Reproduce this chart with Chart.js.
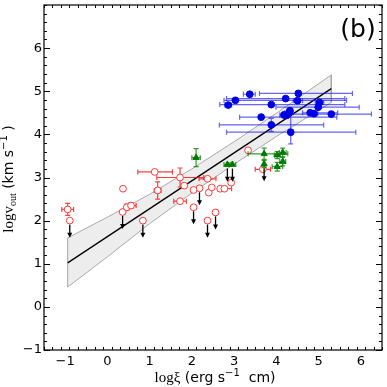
<!DOCTYPE html>
<html>
<head>
<meta charset="utf-8">
<script src="https://cdn.jsdelivr.net/npm/chart.js"></script>
<style>
  html, body { margin: 0; padding: 0; background: #fff; }
  #wrap { width: 387px; height: 387px; }
</style>
</head>
<body>
<div id="wrap"><canvas id="chart"></canvas></div>
<script>
// axes
const xRange = [-1.5, 6.5];
const yRange = [-1, 7];
const xTicks = [-1, 0, 1, 2, 3, 4, 5, 6];
const yTicks = [-1, 0, 1, 2, 3, 4, 5, 6];
const minorStep = 0.2;

// fitted relation and its confidence band
const fitX = [-0.94, 5.30];
const fitY = [1.02, 5.06];
const bandX = [-0.94, 0, 1, 2, 3, 4, 5.30];
const bandUpper = [1.60, 2.08, 2.61, 3.20, 3.83, 4.49, 5.38];
const bandLower = [0.46, 1.16, 1.93, 2.64, 3.31, 3.95, 4.74];

// red open circles  (errors are [minus, plus], 0 = none)
const redX = [-0.94, -0.89, 0.37, 0.36, 0.46, 0.56, 0.84, 1.12, 1.19, 1.72, 1.82, 1.72, 2.37,
              2.18, 2.04, 2.40, 2.47, 2.67, 2.77, 2.93, 2.04, 2.37, 2.56, 3.33, 3.68];
const redY = [2.26, 2.00, 2.74, 2.20, 2.31, 2.35, 2.00, 3.13, 2.70, 3.00, 2.81, 2.45, 2.97,
              2.75, 2.71, 2.65, 2.77, 2.74, 2.74, 2.88, 2.31, 2.00, 2.19, 3.63, 3.19];
const redXErr = [[0.14, 0.14], 0, 0, 0, [0.05, 0.05], [0.12, 0.12], 0, [0.40, 0.42], [0.08, 0.08],
                 [0.55, 0.56], [0.05, 0.05], [0.15, 0.15], [0.20, 0.20], 0, [0.05, 0.05], 0,
                 [0.05, 0.05], [0.05, 0.05], [0.05, 0.17], 0, 0, 0, 0, 0, [0.18, 0.18]];
const redYErr = [[0.14, 0.14], 0, 0, 0, [0.07, 0.07], [0.06, 0.06], 0, [0.04, 0.04], [0.20, 0.20],
                 [0.22, 0.22], 0, 0, 0, 0, 0, 0, 0, 0, 0, 0, 0, 0, 0, 0, 0];
const redLimit = [false, true, false, true, false, false, true, false, false, false, false, false, false,
                  true, false, false, false, false, false, false, true, true, true, false, false];

// blue filled circles
const blueX = [3.37, 4.52, 3.03, 4.22, 4.50, 5.02, 2.86, 3.88, 4.99, 4.32, 4.18, 4.24, 4.30,
               4.80, 4.89, 5.30, 3.64, 3.88, 4.34];
const blueY = [4.93, 4.95, 4.79, 4.83, 4.78, 4.74, 4.68, 4.69, 4.63, 4.55, 4.45, 4.44, 4.50,
               4.50, 4.48, 4.47, 4.40, 4.22, 4.05];
const blueXErr = [[0.15, 0.13], [0.92, 1.28], [0.27, 2.63], [1.40, 1.40], [0.10, 0.12], [0.10, 0.10],
                  [0.08, 0.08], [1.22, 1.74], [1.00, 0.97], 0, [0.10, 0.10], 0, [0.10, 0.10],
                  [0.18, 0.65], [0.09, 0.09], [1.15, 0.95], [0.51, 1.79], [1.23, 1.24], [1.52, 1.54]];
const blueYErr = [0, 0, 0, 0, 0, 0, 0, 0, 0, 0, 0, 0, 0, 0, 0, 0, 0, [0.15, 0.15], [0.27, 0.54]];

// green triangles
const greenX = [2.10, 2.84, 2.96, 3.71, 3.71, 4.02, 4.15, 4.02, 4.15];
const greenY = [3.46, 3.30, 3.30, 3.55, 3.31, 3.52, 3.58, 3.25, 3.37];
const greenXErr = [[0.10, 0.10], [0.08, 0.08], [0.08, 0.08], [0.38, 0.56], 0, [0.07, 0.07],
                   [0.08, 0.08], [0.12, 0.13], [0.07, 0.07]];
const greenYErr = [[0.21, 0.21], 0, 0, [0.13, 0.13], [0.08, 0.08], [0.08, 0.08], [0.10, 0.10],
                   [0.10, 0.10], [0.10, 0.10]];
const greenLimit = [false, true, true, false, true, false, false, false, false];

const limitDrop = 0.28;   // arrow length in dex

const pts = (xs, ys) => xs.map((x, i) => ({ x: x, y: ys[i] }));
const bandPts = pts(bandX, bandUpper).concat(pts(bandX, bandLower).reverse());
bandPts.push(bandPts[0]);

const fmt = v => (v < 0 ? '\u2212' + Math.abs(v) : String(v));
const noPad = s => { s.paddingTop = 0; s.paddingBottom = 0; s.paddingLeft = 0; s.paddingRight = 0; };

// error bars and upper-limit arrows, drawn just below each marker set
const errorBars = {
  id: 'errorBars',
  beforeDatasetDraw(chart, args) {
    const ds = chart.data.datasets[args.index];
    if (!ds.errX) return;
    const ctx = chart.ctx, xs = chart.scales.x, ys = chart.scales.y;
    const cap = 2.5;
    ctx.save();
    ctx.strokeStyle = ds.errColor;
    ctx.lineWidth = 1.2;
    ds.data.forEach((p, i) => {
      const px = xs.getPixelForValue(p.x), py = ys.getPixelForValue(p.y);
      const ex = ds.errX[i], ey = ds.errY[i];
      ctx.beginPath();
      if (ex) {
        const a = xs.getPixelForValue(p.x - ex[0]), b = xs.getPixelForValue(p.x + ex[1]);
        ctx.moveTo(a, py); ctx.lineTo(b, py);
        ctx.moveTo(a, py - cap); ctx.lineTo(a, py + cap);
        ctx.moveTo(b, py - cap); ctx.lineTo(b, py + cap);
      }
      if (ey) {
        const a = ys.getPixelForValue(p.y - ey[0]), b = ys.getPixelForValue(p.y + ey[1]);
        ctx.moveTo(px, a); ctx.lineTo(px, b);
        ctx.moveTo(px - cap, a); ctx.lineTo(px + cap, a);
        ctx.moveTo(px - cap, b); ctx.lineTo(px + cap, b);
      }
      ctx.stroke();
    });
    ctx.restore();
  },
  afterDatasetDraw(chart, args) {
    const ds = chart.data.datasets[args.index];
    if (!ds.limit) return;
    const ctx = chart.ctx, xs = chart.scales.x, ys = chart.scales.y;
    ctx.save();
    ctx.strokeStyle = '#000';
    ctx.fillStyle = '#000';
    ctx.lineWidth = 1.3;
    ds.data.forEach((p, i) => {
      if (!ds.limit[i]) return;
      const px = xs.getPixelForValue(p.x);
      const top = ys.getPixelForValue(p.y) + 4;
      const tip = ys.getPixelForValue(p.y - limitDrop) + 4;
      ctx.beginPath();
      ctx.moveTo(px, top); ctx.lineTo(px, tip - 3);
      ctx.stroke();
      ctx.beginPath();
      ctx.moveTo(px - 2.5, tip - 4); ctx.lineTo(px + 2.5, tip - 4); ctx.lineTo(px, tip + 1);
      ctx.closePath();
      ctx.fill();
    });
    ctx.restore();
  }
};

// frame, inward ticks on all sides, axis titles and panel tag
const decor = {
  id: 'decor',
  afterDraw(chart) {
    const ctx = chart.ctx, a = chart.chartArea, xs = chart.scales.x, ys = chart.scales.y;
    ctx.save();
    ctx.strokeStyle = '#000';
    ctx.lineWidth = 1;
    ctx.beginPath();
    const tick = (isX, v, len) => {
      if (isX) {
        const p = Math.round(xs.getPixelForValue(v)) + 0.5;
        ctx.moveTo(p, a.bottom); ctx.lineTo(p, a.bottom - len);
        ctx.moveTo(p, a.top); ctx.lineTo(p, a.top + len);
      } else {
        const p = Math.round(ys.getPixelForValue(v)) + 0.5;
        ctx.moveTo(a.left, p); ctx.lineTo(a.left + len, p);
        ctx.moveTo(a.right, p); ctx.lineTo(a.right - len, p);
      }
    };
    for (let v = xRange[0]; v <= xRange[1] + 1e-9; v += minorStep) {
      const r = Math.round(v * 10) / 10;
      tick(true, r, xTicks.includes(r) ? 6 : 3);
    }
    for (let v = yRange[0]; v <= yRange[1] + 1e-9; v += minorStep) {
      const r = Math.round(v * 10) / 10;
      tick(false, r, yTicks.includes(r) ? 6 : 3);
    }
    ctx.stroke();
    ctx.lineWidth = 1.2;
    ctx.strokeRect(a.left, a.top, a.right - a.left, a.bottom - a.top);

    const serif = '15px "Liberation Serif"';
    const sans = '14px "DejaVu Sans"';
    const small = '10px "DejaVu Sans"';
    const sub = '10px "Liberation Serif"';
    const drawParts = (parts, cx, cy) => {
      let w = 0;
      parts.forEach(p => { ctx.font = p.f; w += ctx.measureText(p.t).width; });
      let x = cx - w / 2;
      parts.forEach(p => {
        ctx.font = p.f;
        ctx.fillText(p.t, x, cy + (p.dy || 0));
        x += ctx.measureText(p.t).width;
      });
    };
    ctx.fillStyle = '#000';
    ctx.textBaseline = 'alphabetic';
    ctx.textAlign = 'left';
    drawParts([
      { t: 'log\u03be', f: serif },
      { t: ' (erg s', f: sans },
      { t: '\u22121', f: small, dy: -6 },
      { t: '  cm)', f: sans }
    ], 215, 382);

    ctx.save();
    ctx.translate(13, 179);
    ctx.rotate(-Math.PI / 2);
    drawParts([
      { t: 'logv', f: serif },
      { t: 'out', f: sub, dy: 3 },
      { t: ' (km s', f: sans },
      { t: '\u22121', f: small, dy: -6 },
      { t: ' )', f: sans }
    ], 0, 0);
    ctx.restore();

    ctx.font = '25px "DejaVu Sans"';
    ctx.textAlign = 'center';
    ctx.textBaseline = 'middle';
    ctx.fillText('(b)', 358, 30);
    ctx.restore();
  }
};

new Chart(document.getElementById('chart'), {
  type: 'scatter',
  data: {
    datasets: [
      {
        data: pts(blueX, blueY),
        errX: blueXErr, errY: blueYErr, errColor: 'rgba(20,20,240,0.65)',
        pointStyle: 'circle', pointRadius: 3.4,
        backgroundColor: '#0000e6', borderColor: '#0000e6', borderWidth: 1,
        order: 1
      },
      {
        data: pts(greenX, greenY),
        errX: greenXErr, errY: greenYErr, errColor: 'rgba(0,128,0,0.8)', limit: greenLimit,
        pointStyle: 'triangle', pointRadius: 3.6,
        backgroundColor: '#007a00', borderColor: '#007a00', borderWidth: 1,
        order: 2
      },
      {
        data: pts(redX, redY),
        errX: redXErr, errY: redYErr, errColor: 'rgba(255,0,0,0.75)', limit: redLimit,
        pointStyle: 'circle', pointRadius: 3.4,
        backgroundColor: '#ffffff', borderColor: 'rgba(255,40,40,0.9)', borderWidth: 1,
        order: 3
      },
      {
        data: pts(fitX, fitY),
        showLine: true, pointRadius: 0, borderColor: '#000', borderWidth: 1.3,
        order: 4
      },
      {
        data: bandPts,
        showLine: true, pointRadius: 0, fill: 'shape',
        borderColor: '#a8a8a8', borderWidth: 1, backgroundColor: 'rgba(225,225,225,0.6)',
        tension: 0,
        order: 5
      }
    ]
  },
  options: {
    responsive: true,
    maintainAspectRatio: false,
    animation: false,
    layout: { padding: { top: 0, right: 1, left: 0, bottom: 0 } },
    plugins: { legend: { display: false }, tooltip: { enabled: false } },
    scales: {
      x: {
        type: 'linear', min: xRange[0], max: xRange[1],
        afterBuildTicks: s => { s.ticks = xTicks.map(v => ({ value: v })); },
        afterFit: s => { s.height = 37; noPad(s); },
        grid: { display: false, drawTicks: false },
        border: { display: false },
        ticks: {
          color: '#000', padding: 4, maxRotation: 0, autoSkip: false,
          font: { family: 'DejaVu Sans', size: 13 },
          callback: v => fmt(v)
        }
      },
      y: {
        type: 'linear', min: yRange[0], max: yRange[1],
        afterBuildTicks: s => { s.ticks = yTicks.map(v => ({ value: v })); },
        afterFit: s => { s.width = 44; noPad(s); },
        grid: { display: false, drawTicks: false },
        border: { display: false },
        ticks: {
          color: '#000', padding: 2, autoSkip: false,
          font: { family: 'DejaVu Sans', size: 13 },
          callback: v => fmt(v)
        }
      }
    }
  },
  plugins: [errorBars, decor]
});
</script>
</body>
</html>
